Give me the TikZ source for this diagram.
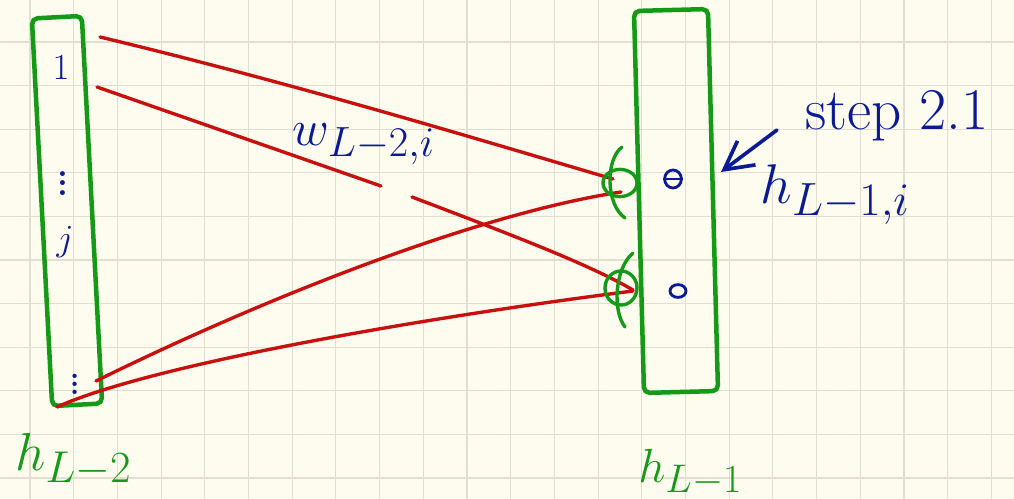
\documentclass[tikz,border=0pt]{standalone}
\usepackage{amsmath}
\usetikzlibrary{arrows.meta,positioning,shapes.geometric,calc}
\definecolor{paper}{HTML}{FDFCEE}
\definecolor{gridc}{HTML}{E2DFD2}
\definecolor{peng}{HTML}{149A16}
\definecolor{penr}{HTML}{C8100E}
\definecolor{penb}{HTML}{0A1A96}

\begin{document}
\begin{tikzpicture}[x=0.025cm, y=-0.025cm,
  layer/.style={draw=peng, line width=3.2pt, rounded corners=4pt, inner sep=0pt},
  unit/.style={draw=penb, line width=2pt, ellipse, inner sep=0pt},
  gate/.style={draw=peng, line width=2.4pt, ellipse, inner sep=0pt},
  stroke/.style={draw=peng, line width=2.4pt, line cap=round},
  wire/.style={draw=penr, line width=2.4pt, line cap=round},
  big/.style={font=\fontsize{24.88}{30}\selectfont, scale=#1, transform shape},
  lab/.style={text=peng, inner sep=0pt, anchor=base west},
  note/.style={text=penb, inner sep=0pt},
  arr/.style={-{Straight Barb[length=0.7cm, width=0.75cm]}, draw=penb, line width=2.6pt, line cap=round}
]
\fill[paper] (0,0) rectangle (1014,499);
\useasboundingbox (0,0) rectangle (1014,499);
\foreach \i in {0,...,22} \draw[gridc, line width=0.8pt] ({30+43.7*\i},0) -- ({30+43.7*\i},499);
\foreach \j in {0,...,10} \draw[gridc, line width=0.8pt] (0,{42+43.6*\j}) -- (1014,{42+43.6*\j});

% the two layers
\node[layer, minimum width=1.25cm, minimum height=9.7cm, rotate=3] (prev) at (67,211) {};
\node[layer, minimum width=1.85cm, minimum height=9.55cm, rotate=1.5] (curr) at (676,201) {};
\node[lab, big=1.53] (hprev) at (15,470) {$h_{L-2}$};
\node[lab, big=1.37] (hcurr) at (638,482) {$h_{L-1}$};

% entries of the left layer
\node[note, big=1.05] (e1) at (61,68) {$1$};
\node[note, big=1.7] (ed1) at (63,176) {$\vdots$};
\node[note, big=1.05] (ej) at (65,242) {$j$};
\node[note, big=1.5] (ed2) at (75,378) {$\vdots$};

% units of the right layer
\node[unit, minimum width=0.42cm, minimum height=0.45cm] (n1) at (673,179) {};
\draw[penb, line width=1.6pt] (n1.west) -- (n1.east);
\node[unit, minimum width=0.4cm, minimum height=0.32cm] (n2) at (678,291) {};

% weights
\coordinate (a1) at (100,37);  \coordinate (t1) at (613,179);
\coordinate (a2) at (97,87);   \coordinate (t2) at (633,290);
\coordinate (a3) at (96,381);  \coordinate (t3) at (621,192);
\coordinate (a4) at (57,407);  \coordinate (t4) at (633,291);
\coordinate (c1) at (381,186); \coordinate (c2) at (412,197);
\draw[wire] (a1) .. controls (300,85) and (480,140) .. (t1);
\draw[wire] (a2) -- (c1);
\draw[wire] (c2) .. controls (520,238) and (590,265) .. (t2);
\draw[wire] (a3) .. controls (250,305) and (470,215) .. (t3);
\draw[wire] (a4) .. controls (150,365) and (420,318) .. (t4);
\node[note, anchor=base west, big=1.45] (w) at (292,145) {$w_{L-2,i}$};

\node[gate, minimum width=0.85cm, minimum height=0.68cm] (g1) at (620,183) {};
\draw[stroke] ($(g1)+(2,-36)$) .. controls ($(g1)+(-15,-23)$) and ($(g1)+(-14,22)$) .. ($(g1)+(5,35)$);
\node[gate, minimum width=0.8cm, minimum height=0.85cm] (g2) at (621,288) {};
\draw[stroke] ($(g2)+(12,-35)$) .. controls ($(g2)+(-6,-20)$) and ($(g2)+(-9,22)$) .. ($(g2)+(4,39)$);

% annotation
\node[note, anchor=base west, big=1.69] (step) at (805,130) {step 2.1};
\node[note, anchor=base west, big=1.6] (hi) at (760,203) {$h_{L-1,i}$};
\coordinate (tail) at (777,130); \coordinate (tip) at (721,172);
\draw[arr] (tail) -- (tip);
\end{tikzpicture}
\end{document}
